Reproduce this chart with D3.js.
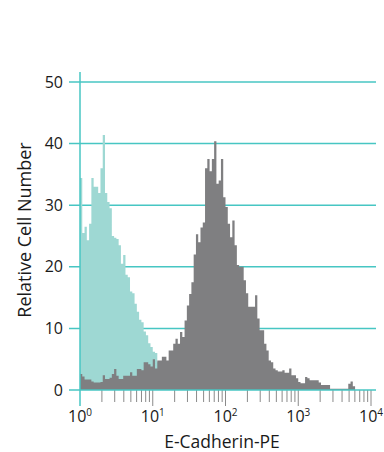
<!DOCTYPE html>
<html>
<head>
<meta charset="utf-8">
<script src="https://cdn.jsdelivr.net/npm/d3@7"></script>
<style>
  body { margin: 0; background: #fff; }
  text { font-family: "Open Sans", "Noto Sans", sans-serif; fill: #1a1a1a; }
</style>
</head>
<body>
<div id="chart"></div>
<script>
// histogram channels: 32 bins per decade, from 10^0 to 10^4
const binsPerDecade = 32;

// isotype control (cyan), counts per bin starting at 10^0
const controlCounts = [34.4, 25.5, 26.5, 24.3, 27, 34.4, 33, 33, 32, 36,
    41.4, 32, 30.5, 29.5, 25, 24.7, 24.5, 23.5, 20.5, 21.9,
    18.7, 18.3, 16, 15.7, 14, 12.7, 11.4, 11, 9.5, 8.9,
    7.6, 7, 6.2, 6, 4.5, 1];

// E-Cadherin-PE stained (gray), counts per bin starting at 10^0
const stainedCounts = [2.6, 2.2, 1.7, 1.7, 1.7, 1.4, 1.2, 1.2, 1.2, 1.3,
    2.4, 1.8, 1.8, 2.0, 2.6, 3.4, 2.3, 1.8, 1.8, 2.3,
    2.3, 2.3, 2.9, 2.3, 2.3, 3.4, 3.4, 3.2, 4.5, 4.5,
    4.2, 3.8, 5.0, 3.5, 4.8, 4.8, 5.4, 5.4, 4.8, 6.4,
    6.4, 7.5, 8.3, 7.5, 9.4, 8.6, 11.3, 13.7, 15.6, 17.5,
    22, 25.3, 24, 26.4, 27.2, 36, 37.5, 35.5, 37.5, 40.4,
    33.5, 34, 37.5, 31.3, 29.7, 27, 24.8, 27.5, 23.5, 20.3,
    20, 20, 17.8, 15.7, 13.5, 13.5, 13.5, 15.4, 11.6, 9.7,
    9.7, 7.5, 6.4, 4.8, 4.5, 3.5, 3.2, 3.0, 3.0, 3.2,
    2.8, 2.8, 3.5, 2.4, 2.4, 1.9, 1.3, 1.1, 1.1, 2.1,
    1.9, 1.6, 1.6, 1.6, 1.6, 1.2, 0.8, 0.8, 0.8, 0.8,
    0.2, 0.2, 0.2, 0.2, 0.2, 0.2, 0.2, 0.2, 1.0, 1.4,
    0.6];

const yTicks = [0, 10, 20, 30, 40, 50];
const xDecades = [0, 1, 2, 3, 4];

const xTitle = "E-Cadherin-PE";
const yTitle = "Relative Cell Number";

const width = 384, height = 452;
const teal = "#47c6c3";

const svg = d3.select("#chart").append("svg")
    .attr("width", width)
    .attr("height", height);

const x = d3.scaleLog().domain([1, 1e4]).range([80, 371]);
const y = d3.scaleLinear().domain([0, 50]).range([390, 82]);

// gridlines (behind the histograms)
svg.append("g")
    .selectAll("line")
    .data(yTicks.filter(d => d > 0))
    .join("line")
    .attr("x1", 69).attr("x2", 376)
    .attr("y1", d => y(d)).attr("y2", d => y(d))
    .attr("stroke", teal)
    .attr("stroke-width", 1.5);

// turn counts into step points
function toSteps(counts) {
    let pts = counts.map((c, i) => ({ v: Math.pow(10, i / binsPerDecade), c: c }));
    pts.push({ v: Math.pow(10, counts.length / binsPerDecade), c: 0 });
    return pts;
}

const area = d3.area()
    .curve(d3.curveStepAfter)
    .x(d => x(d.v))
    .y0(y(0))
    .y1(d => y(d.c));

svg.append("path")
    .datum(toSteps(controlCounts))
    .attr("d", area)
    .attr("fill", "#9ed8d3");

svg.append("path")
    .datum(toSteps(stainedCounts))
    .attr("d", area)
    .attr("fill", "#7f7f81");

// x ticks: major at decades, minor at 2..9
let minorTicks = [];
xDecades.slice(0, -1).forEach(k => {
    for (let m = 2; m <= 9; m++) minorTicks.push(m * Math.pow(10, k));
});

svg.append("g")
    .selectAll("line")
    .data(minorTicks)
    .join("line")
    .attr("x1", d => x(d)).attr("x2", d => x(d))
    .attr("y1", y(0)).attr("y2", 402)
    .attr("stroke", "#8a8a8a")
    .attr("stroke-width", 1);

svg.append("g")
    .selectAll("line")
    .data(xDecades.slice(1))
    .join("line")
    .attr("x1", d => x(Math.pow(10, d))).attr("x2", d => x(Math.pow(10, d)))
    .attr("y1", y(0)).attr("y2", 406)
    .attr("stroke", "#8a8a8a")
    .attr("stroke-width", 1);

// baseline and y axis line
svg.append("line")
    .attr("x1", 69).attr("x2", 376)
    .attr("y1", y(0)).attr("y2", y(0))
    .attr("stroke", teal)
    .attr("stroke-width", 1.5);

svg.append("line")
    .attr("x1", x(1)).attr("x2", x(1))
    .attr("y1", 72).attr("y2", 406)
    .attr("stroke", teal)
    .attr("stroke-width", 1.5);

// y tick labels
svg.append("g")
    .selectAll("text")
    .data(yTicks)
    .join("text")
    .attr("x", 63)
    .attr("y", d => y(d))
    .attr("dy", "0.35em")
    .attr("text-anchor", "end")
    .attr("font-size", 16)
    .text(d => d);

// x tick labels as 10^k
let xLabels = svg.append("g")
    .selectAll("text")
    .data(xDecades)
    .join("text")
    .attr("x", d => x(Math.pow(10, d)))
    .attr("y", 422)
    .attr("text-anchor", "middle")
    .attr("font-size", 16);
xLabels.append("tspan").text("10");
xLabels.append("tspan")
    .attr("dy", -6)
    .attr("font-size", 10)
    .text(d => d);

// axis titles
svg.append("text")
    .attr("x", 222)
    .attr("y", 448)
    .attr("text-anchor", "middle")
    .attr("font-size", 17.5)
    .text(xTitle);

svg.append("text")
    .attr("transform", "translate(31,230) rotate(-90)")
    .attr("text-anchor", "middle")
    .attr("font-size", 18)
    .text(yTitle);
</script>
</body>
</html>
